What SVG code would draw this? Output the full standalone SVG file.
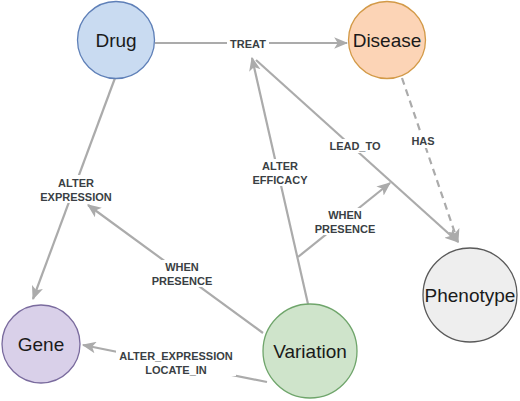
<svg xmlns="http://www.w3.org/2000/svg" width="520" height="401" viewBox="0 0 520 401">
<style>
.edge{fill:none;stroke:#ababab;stroke-width:2.2}
.dash{stroke-dasharray:7,5}
.lbl{font-family:"Liberation Sans",Arial,sans-serif;font-size:11px;font-weight:bold;fill:#3a3f44;text-anchor:middle}
.bg{fill:#ffffff}
.node text{font-family:"Liberation Sans",Arial,sans-serif;font-size:19px;fill:#1a1a1a;text-anchor:middle}
</style>
<defs>
<marker id="arr" viewBox="0 0 12 10" refX="11" refY="5" markerWidth="14" markerHeight="12" markerUnits="userSpaceOnUse" orient="auto">
<path d="M0,0 L12,5 L0,10 L3,5 z" fill="#ababab"/>
</marker>
</defs>
<rect width="520" height="401" fill="#ffffff"/>
<g id="connectors">
<line class="edge" x1="155" y1="43" x2="347" y2="43" marker-end="url(#arr)"/>
<line class="edge" x1="115" y1="78" x2="33" y2="299" marker-end="url(#arr)"/>
<line class="edge" x1="308" y1="304" x2="252" y2="58" marker-end="url(#arr)"/>
<line class="edge" x1="256" y1="60" x2="458" y2="242" marker-end="url(#arr)"/>
<line class="edge dash" x1="402" y1="78" x2="458" y2="242" marker-end="url(#arr)"/>
<line class="edge" x1="298" y1="257" x2="390" y2="183" marker-end="url(#arr)"/>
<line class="edge" x1="263" y1="333" x2="88" y2="205" marker-end="url(#arr)"/>
<line class="edge" x1="267" y1="382" x2="83" y2="345" marker-end="url(#arr)"/>
<rect class="bg" x="227" y="37" width="42" height="14"/>
<text class="lbl" x="248" y="48">TREAT</text>
<rect class="bg" x="40" y="175" width="72" height="28"/>
<text class="lbl" x="76" y="187">ALTER</text>
<text class="lbl" x="76" y="201">EXPRESSION</text>
<rect class="bg" x="252" y="159" width="56" height="27"/>
<text class="lbl" x="280" y="170">ALTER</text>
<text class="lbl" x="280" y="184">EFFICACY</text>
<rect class="bg" x="329" y="139" width="52" height="14"/>
<text class="lbl" x="355" y="150">LEAD_TO</text>
<rect class="bg" x="410" y="134" width="27" height="14"/>
<text class="lbl" x="423" y="145">HAS</text>
<rect class="bg" x="314" y="208" width="62" height="27"/>
<text class="lbl" x="345" y="219">WHEN</text>
<text class="lbl" x="345" y="233">PRESENCE</text>
<rect class="bg" x="151" y="260" width="62" height="27"/>
<text class="lbl" x="182" y="271">WHEN</text>
<text class="lbl" x="182" y="285">PRESENCE</text>
<rect class="bg" x="116" y="349" width="120" height="27"/>
<text class="lbl" x="176" y="360">ALTER_EXPRESSION</text>
<text class="lbl" x="176" y="374">LOCATE_IN</text>
</g>
<g id="drug" class="node">
<circle cx="116" cy="40" r="38.5" fill="#c9dbf1" stroke="#5f80b8" stroke-width="1.3"/>
<text x="116" y="47">Drug</text>
</g>
<g id="disease" class="node">
<circle cx="387" cy="40" r="38.5" fill="#fcd4b6" stroke="#d39a48" stroke-width="1.3"/>
<text x="387" y="47">Disease</text>
</g>
<g id="gene" class="node">
<circle cx="41" cy="344" r="39" fill="#d9d0e9" stroke="#7a6b9e" stroke-width="1.3"/>
<text x="41" y="351">Gene</text>
</g>
<g id="variation" class="node">
<circle cx="310" cy="351" r="47" fill="#cfe4cb" stroke="#6fa56b" stroke-width="1.3"/>
<text x="310" y="358">Variation</text>
</g>
<g id="phenotype" class="node">
<circle cx="470" cy="295" r="47" fill="#eeeeee" stroke="#595959" stroke-width="1.3"/>
<text x="470" y="302">Phenotype</text>
</g>
</svg>
